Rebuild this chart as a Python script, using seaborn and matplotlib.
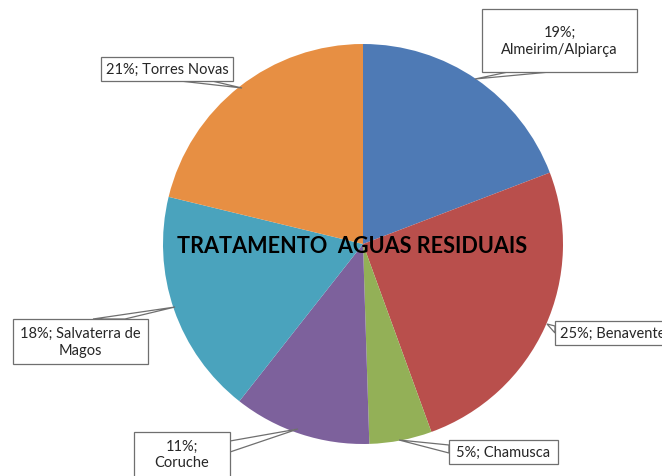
import seaborn as sns
import matplotlib.pyplot as plt
from matplotlib.patches import Rectangle, Polygon

# slice data (clockwise from top)
municipios = ["Almeirim/Alpiarça", "Benavente", "Chamusca", "Coruche",
              "Salvaterra de Magos", "Torres Novas"]
percentagens = [19, 25, 5, 11, 18, 21]
cores = ["#4E7AB5", "#B94F4C", "#93B057", "#7D619C", "#4AA3BD", "#E78F43"]
rotulos = ["19%;\nAlmeirim/Alpiarça", "25%; Benavente", "5%; Chamusca",
           "11%;\nCoruche", "18%; Salvaterra de\nMagos", "21%; Torres Novas"]

sns.set_theme(style="white")
plt.rcParams['font.family'] = ['Lato', 'DejaVu Sans']

CX, CY, R = 363, 245, 200   # pie centre / radius in pixels


def px(x, y):
    # pixel position -> data units of the pie axes
    return (x - CX) / R, (CY - y) / R


fig = plt.figure(figsize=(6.62, 4.77), dpi=100)
ax = fig.add_axes([0, 0, 1, 1])
ax.pie(percentagens, colors=sns.color_palette(cores), startangle=90,
       counterclock=False, radius=1, wedgeprops={'linewidth': 0})
ax.set_xlim(-CX / R, (662 - CX) / R)
ax.set_ylim(-(477 - CY) / R, CY / R)
ax.set_aspect('equal')
ax.axis('off')

# callout boxes: box (x0, y0, x1, y1), pointer base points, tip (pixels)
caixas = [
    ((482, 10, 637, 73), [(508, 73), (550, 73)], (475, 80)),
    ((555, 322, 700, 346), [(555, 327), (555, 334)], (547, 325)),
    ((449, 441, 558, 465), [(449, 446), (449, 454)], (399, 441)),
    ((134, 433, 230, 500), [(230, 442), (230, 453)], (298, 430)),
    ((13, 320, 148, 365), [(93, 320), (125, 320)], (175, 308)),
    ((101, 58, 233, 82), [(180, 82), (212, 82)], (242, 89)),
]

for rotulo, (box, base, tip) in zip(rotulos, caixas):
    x0, y0, x1, y1 = box
    bx, by = px(x0, y1)
    w, h = (x1 - x0) / R, (y1 - y0) / R
    ax.add_patch(Polygon([px(*base[0]), px(*tip), px(*base[1])], closed=True,
                         facecolor='white', edgecolor='#6f6f6f', lw=0.9, zorder=3))
    ax.add_patch(Rectangle((bx, by), w, h, facecolor='white',
                           edgecolor='#6f6f6f', lw=0.9, zorder=4))
    tx = (x0 + min(x1, 662)) / 2 if x1 <= 662 else x0 + 5
    ha = 'center' if x1 <= 662 else 'left'
    ty = (y0 + y1) / 2 if y1 <= 477 else y0 + 22
    ax.text(*px(tx, ty), rotulo, ha=ha, va='center', fontsize=10.5,
            color='#262626', linespacing=1.25, zorder=5)

ax.text(*px(352, 247), "TRATAMENTO  AGUAS RESIDUAIS", ha='center', va='center',
        fontsize=15.6, fontweight='bold', color='black', zorder=6)

fig.savefig("out.png", dpi=100)
